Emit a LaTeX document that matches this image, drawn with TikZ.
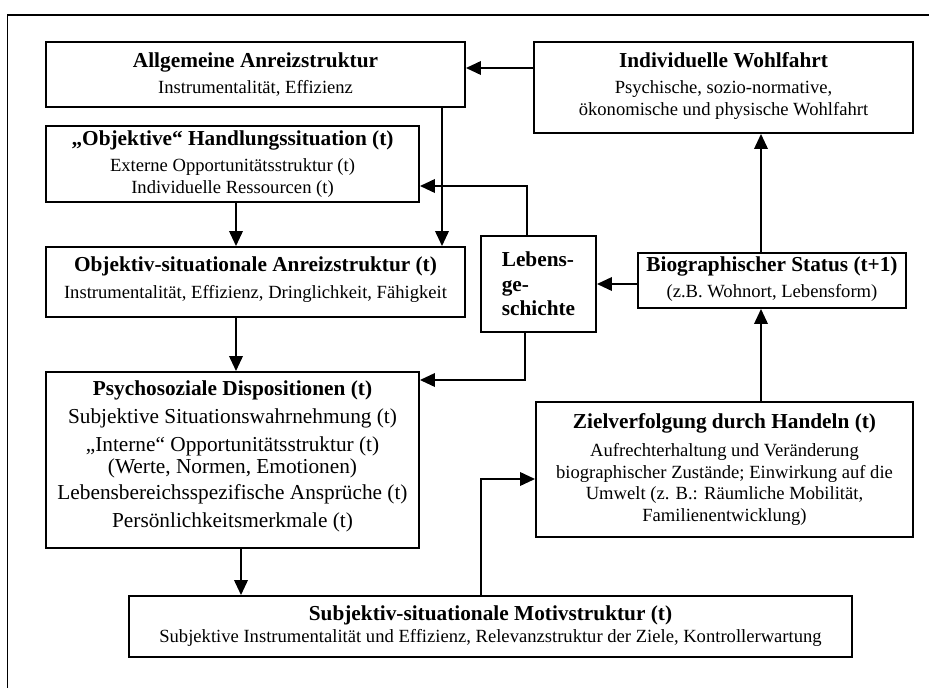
\documentclass[tikz,border=0pt]{standalone}
\usepackage{fontspec}
\setmainfont{Liberation Serif}
\usetikzlibrary{arrows.meta}
\newcommand\ttl[1]{{\fontsize{21.3}{25}\selectfont\bfseries #1}}
\begin{document}
\begin{tikzpicture}[x=1pt,y=-1pt,
  box/.style={draw, line width=1.9pt, rectangle, inner sep=0pt, align=center,
    font=\fontsize{18.6}{21.5}\selectfont},
  arr/.style={line width=2pt, -{Triangle[length=15pt,width=13.5pt]}},
  frame/.style={line width=1.6pt}]
\useasboundingbox (0,0) rectangle (929,688);
\draw[frame] (7.5,700) -- (7.5,15) -- (940,15);

\node[box, minimum width=419pt, minimum height=65pt] (aa) at (255.5,74.5)
  {\ttl{Allgemeine Anreizstruktur}\\[4.5pt] Instrumentalität, Effizienz\rule[-2pt]{0pt}{2pt}};
\node[box, minimum width=379pt, minimum height=91pt] (iw) at (723.5,87.5)
  {\ttl{Individuelle Wohlfahrt}\\[5pt] Psychische, sozio-normative,\\ ökonomische und physische Wohlfahrt\rule[-8pt]{0pt}{8pt}};
\node[box, minimum width=373pt, minimum height=76pt] (ohs) at (232.5,164)
  {\ttl{„Objektive“ Handlungssituation (t)}\\[5pt] Externe Opportunitätsstruktur (t)\\ Individuelle Ressourcen (t)};
\node[box, minimum width=419pt, minimum height=70pt] (osa) at (255.5,282)
  {\ttl{Objektiv-situationale Anreizstruktur (t)}\\[5pt] Instrumentalität, Effizienz, Dringlichkeit, Fähigkeit\rule[-9pt]{0pt}{9pt}};
\node[box, align=left, minimum width=115pt, minimum height=96pt,
  font=\fontsize{21.3}{24.5}\selectfont\bfseries] (leb) at (538.5,284)
  {Lebens-\\ge-\\schichte};
\node[box, minimum width=268pt, minimum height=55pt] (bs) at (772,280.5)
  {\ttl{Biographischer Status (t+1)}\\[4pt] (z.B. Wohnort, Lebensform)\rule[-7pt]{0pt}{7pt}};
\node[box, minimum width=373pt, minimum height=176pt,
  font=\fontsize{21.3}{22}\selectfont] (pd) at (232.5,460)
  {\textbf{Psychosoziale Dispositionen (t)}\\[6pt]
   Subjektive Situationswahrnehmung (t)\\[6pt]
   „Interne“ Opportunitätsstruktur (t)\\
   (Werte, Normen, Emotionen)\\[4pt]
   Lebensbereichsspezifische Ansprüche (t)\\[6pt]
   Persönlichkeitsmerkmale (t)\rule[-12pt]{0pt}{12pt}};
\node[box, minimum width=377pt, minimum height=135pt] (zv) at (724.5,469.5)
  {\ttl{Zielverfolgung durch Handeln (t)}\\[7pt]
   Aufrechterhaltung und Veränderung\\
   biographischer Zustände; Einwirkung auf die\\
   Umwelt (z. B.: Räumliche Mobilität,\\
   Familienentwicklung)\rule[-3pt]{0pt}{3pt}};
\node[box, minimum width=723pt, minimum height=61pt] (ssm) at (490.5,626.5)
  {\ttl{Subjektiv-situationale Motivstruktur (t)}\\[0.5pt]
   Subjektive Instrumentalität und Effizienz, Relevanzstruktur der Ziele, Kontrollerwartung\rule[-5pt]{0pt}{5pt}};

\draw[arr] (iw.west |- 0,68) -- (aa.east |- 0,68);
\draw[arr] (236,0 |- ohs.south) -- (236,0 |- osa.north);
\draw[arr] (442,0 |- aa.south) -- (442,0 |- osa.north);
\draw[arr] (527,0 |- leb.north) -- (527,186) -- (ohs.east |- 0,186);
\draw[arr] (bs.west |- 0,284) -- (leb.east |- 0,284);
\draw[arr] (761,0 |- bs.north) -- (761,0 |- iw.south);
\draw[arr] (236,0 |- osa.south) -- (236,0 |- pd.north);
\draw[arr] (525,0 |- leb.south) -- (525,380) -- (pd.east |- 0,380);
\draw[arr] (761,0 |- zv.north) -- (761,0 |- bs.south);
\draw[arr] (241,0 |- pd.south) -- (241,0 |- ssm.north);
\draw[arr] (481,0 |- ssm.north) -- (481,479) -- (zv.west |- 0,479);
\end{tikzpicture}
\end{document}
